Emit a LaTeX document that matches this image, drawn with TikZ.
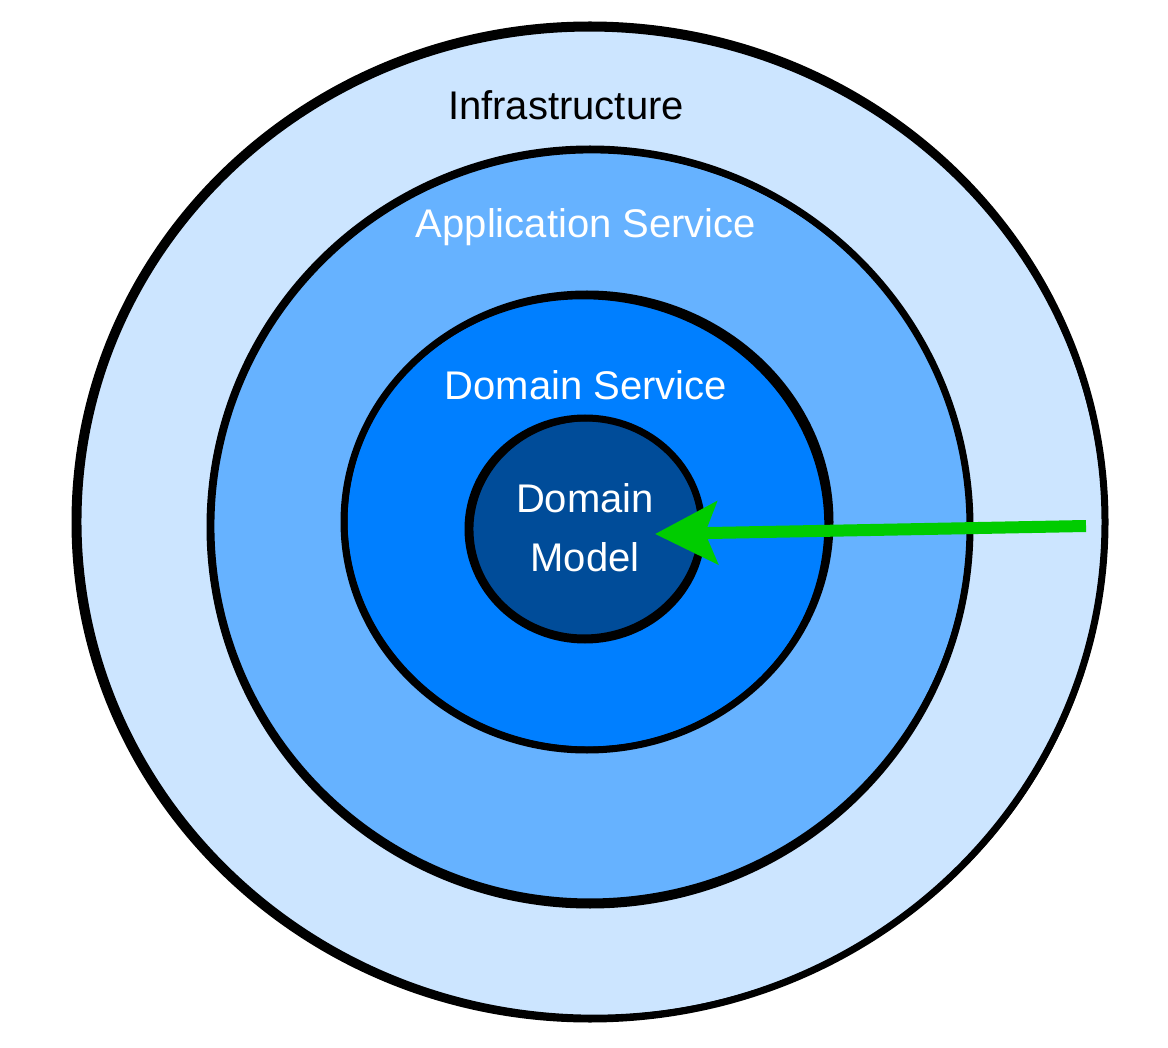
\documentclass[tikz,border=0pt]{standalone}
\usepackage{fontspec}
\setmainfont{Liberation Sans}
\usetikzlibrary{shapes.geometric,arrows.meta}
\definecolor{infra}{HTML}{CCE5FF}
\definecolor{appc}{HTML}{66B2FF}
\definecolor{domsc}{HTML}{007FFF}
\definecolor{domm}{HTML}{004C99}
\definecolor{arrowg}{HTML}{00CC00}
\tikzset{
  ring/.style={ellipse, inner sep=0pt, draw=black, line width=7pt},
  sketch/.style={draw=black, line width=5pt},
  lbl/.style={font=\fontsize{40}{60}\selectfont, inner sep=0pt, align=center},
}
\begin{document}
\begin{tikzpicture}[x=1pt,y=-1pt]
\useasboundingbox (0,0) rectangle (1168,1048);
% rings
\node[ring, fill=infra, minimum width=1030pt, minimum height=994pt] (infra) at (590,522) {};
\draw[sketch, rotate around={-3:(590,522)}] (592,523) ellipse [x radius=513, y radius=494];
\node[ring, fill=appc, minimum width=760pt, minimum height=756pt] (app) at (590,527) {};
\draw[sketch, rotate around={4:(590,527)}] (591,526) ellipse [x radius=379, y radius=375];
\node[ring, fill=domsc, minimum width=486pt, minimum height=456pt] (dsvc) at (587,522) {};
\draw[sketch, rotate around={-5:(587,522)}] (586,523) ellipse [x radius=241, y radius=226];
\node[ring, fill=domm, minimum width=234pt, minimum height=222pt] (dmod) at (585,529) {};
\draw[sketch, rotate around={8:(585,529)}] (586,528) ellipse [x radius=115, y radius=109];
% labels
\node[lbl, text=black] (tinfra) at (566,105) {Infrastructure};
\node[lbl, text=white] (tapp) at (586,227) {Application Service};
\node[lbl, text=white] (tdsvc) at (586,385) {Domain Service};
\node[lbl, text=white] (tdm1) at (585,498) {Domain};
\node[lbl, text=white] (tdm2) at (585,557) {Model};
% arrow
\coordinate (src) at (1086,526);
\coordinate (tip) at (655,534);
\draw[arrowg, line width=12pt, -{Stealth[length=62pt, width=62pt, inset=12pt]}] (src) -- (tip);
\end{tikzpicture}
\end{document}
